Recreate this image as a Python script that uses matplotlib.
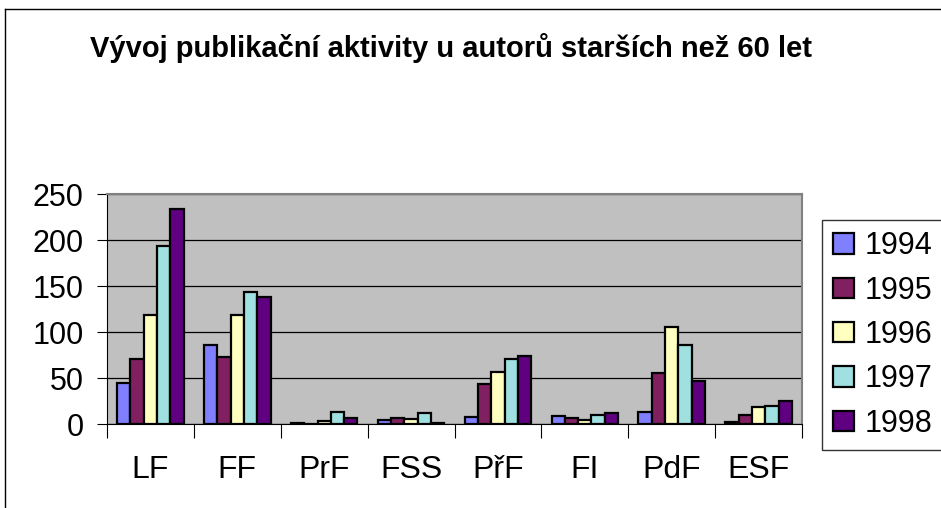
import numpy as np
import matplotlib
matplotlib.use("Agg")
import matplotlib.pyplot as plt
from matplotlib.lines import Line2D
from matplotlib.patches import Patch

plt.rcParams['font.family'] = ['Liberation Sans', 'DejaVu Sans']

# Faculties and yearly counts
faculties = ['LF', 'FF', 'PrF', 'FSS', 'PřF', 'FI', 'PdF', 'ESF']
years = ['1994', '1995', '1996', '1997', '1998']
v1994 = [45, 86, 1, 4, 8, 9, 13, 2]
v1995 = [71, 73, 0, 7, 43, 7, 55, 10]
v1996 = [119, 119, 3, 5, 57, 4, 105, 19]
v1997 = [194, 143, 13, 12, 71, 10, 86, 20]
v1998 = [234, 138, 7, 1, 74, 12, 47, 25]
series = [v1994, v1995, v1996, v1997, v1998]
colors = ['#8080FF', '#802060', '#FFFFC0', '#A0E0E0', '#600080']

W, H = 941, 508
fig = plt.figure(figsize=(W / 100, H / 100), dpi=100)
ax = fig.add_axes([107 / W, 1 - 424 / H, (802 - 107) / W, (424 - 194) / H])
ax.set_facecolor('#C0C0C0')

x = np.arange(len(faculties))
bw = 0.153
for j, vals in enumerate(series):
    ax.bar(x + (j - 2) * bw, vals, width=bw, color=colors[j],
           edgecolor='black', linewidth=1.6, zorder=3)

ax.set_xlim(-0.5, len(faculties) - 0.5)
ax.set_ylim(0, 250)
ax.set_yticks(range(0, 251, 50))
ax.yaxis.grid(True, color='black', linewidth=0.9, zorder=1)
ax.set_axisbelow(True)

ax.set_xticks(x)
ax.set_xticklabels(faculties)
ax.set_xticks(np.arange(len(faculties) + 1) - 0.5, minor=True)
ax.tick_params(axis='x', which='major', length=0, pad=22, labelsize=23)
ax.tick_params(axis='x', which='minor', length=10, width=0.8, direction='out')
ax.tick_params(axis='y', length=7, width=0.8, direction='out', pad=10, labelsize=22)

for s in ['top', 'right']:
    ax.spines[s].set_color('#808080')
    ax.spines[s].set_linewidth(1.5)
ax.spines['left'].set_color('black')
ax.spines['bottom'].set_color('black')

fig.text(90 / W, 1 - 57 / H, 'Vývoj publikační aktivity u autorů starších než 60 let',
         fontsize=21, fontweight='bold', ha='left', va='baseline')

handles = [Patch(facecolor=c, edgecolor='black', linewidth=1.6) for c in colors]
leg = fig.legend(handles, years, loc='upper left',
                 bbox_to_anchor=(822 / W, 1 - 220 / H), fontsize=22,
                 frameon=True, fancybox=False, edgecolor='black',
                 handlelength=0.69, handleheight=0.65, handletextpad=0.33,
                 labelspacing=0.47, borderpad=0.37, borderaxespad=0)
leg.get_frame().set_linewidth(1.0)

# outer chart frame
fig.add_artist(Line2D([5 / W, 5 / W], [0, 1 - 9 / H], color='black', linewidth=1.0))
fig.add_artist(Line2D([5 / W, 1], [1 - 9 / H, 1 - 9 / H], color='black', linewidth=1.0))

fig.savefig('out.png', dpi=100)
